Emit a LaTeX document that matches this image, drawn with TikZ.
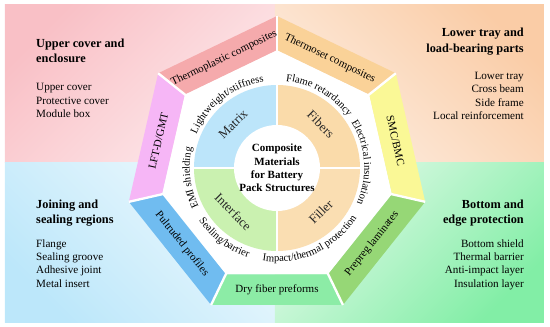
\documentclass[tikz,border=0pt]{standalone}
\usepackage{fontspec}
\setmainfont{Liberation Serif}
\usetikzlibrary{decorations.text}

% background quadrants
\definecolor{bgpink}{RGB}{249,192,198}
\definecolor{bgpinklight}{RGB}{253,234,236}
\definecolor{bgpeach}{RGB}{250,204,166}
\definecolor{bgpeachlight}{RGB}{253,238,226}
\definecolor{bgblue}{RGB}{188,231,250}
\definecolor{bgbluelight}{RGB}{238,249,253}
\definecolor{bggreen}{RGB}{130,238,166}
\definecolor{bggreenlight}{RGB}{228,250,234}

% outer ring
\definecolor{thermoplasticfill}{RGB}{245,170,172}
\definecolor{thermosetfill}{RGB}{250,210,152}
\definecolor{smcfill}{RGB}{250,248,150}
\definecolor{prepregfill}{RGB}{150,215,118}
\definecolor{dryfiberfill}{RGB}{140,236,166}
\definecolor{pultrudedfill}{RGB}{112,188,240}
\definecolor{lftfill}{RGB}{246,182,246}

% core disc
\definecolor{matrixfill}{RGB}{188,229,250}
\definecolor{fibersfill}{RGB}{250,219,170}
\definecolor{interfacefill}{RGB}{202,241,176}
\definecolor{fillerfill}{RGB}{250,222,178}

\newcommand{\ringfont}{\fontsize{9}{10}\selectfont}

\begin{document}
\begin{tikzpicture}[
        heading/.style={font=\fontsize{10.5}{13}\selectfont\bfseries, inner sep=0pt},
        items/.style={font=\fontsize{9.5}{11.3}\selectfont, inner sep=0pt},
        segtext/.style={font=\fontsize{9.4}{11}\selectfont, inner sep=0pt},
        quadtext/.style={font=\fontsize{11}{13}\selectfont, text=black!85, inner sep=0pt},
        gap/.style={white, line width=2pt},
        ringtext/.style={decorate, decoration={text along path, text align=center, text={#1}}}
    ]
    \useasboundingbox (-8.31,-4.77) rectangle (8.19,5.04);

    % Background
    \shade[top color=bgpink, bottom color=bgpinklight, shading angle=45] (-8.16,0.18) rectangle (-0.06,4.89);
    \shade[top color=bgpeach, bottom color=bgpeachlight, shading angle=-45] (-0.06,0.18) rectangle (8.01,4.89);
    \shade[top color=bgblue, bottom color=bgbluelight, shading angle=135] (-8.16,-4.62) rectangle (-0.06,0.18);
    \shade[top color=bggreen, bottom color=bggreenlight, shading angle=-135] (-0.06,-4.62) rectangle (8.01,0.18);

    % Outer ring of processes
    \fill[white] (90:3.54) -- (38.57:3.54) -- (-12.86:3.54) -- (-64.29:3.54) -- (-115.71:3.54) -- (-167.14:3.54) -- (141.43:3.54) -- cycle;
    \fill[thermoplasticfill] (141.43:4.56) -- (90:4.56) -- (90:3.54) -- (141.43:3.54) -- cycle;
    \fill[thermosetfill] (90:4.56) -- (38.57:4.56) -- (38.57:3.54) -- (90:3.54) -- cycle;
    \fill[smcfill] (38.57:4.56) -- (-12.86:4.56) -- (-12.86:3.54) -- (38.57:3.54) -- cycle;
    \fill[prepregfill] (-12.86:4.56) -- (-64.29:4.56) -- (-64.29:3.54) -- (-12.86:3.54) -- cycle;
    \fill[dryfiberfill] (-64.29:4.56) -- (-115.71:4.56) -- (-115.71:3.54) -- (-64.29:3.54) -- cycle;
    \fill[pultrudedfill] (-115.71:4.56) -- (-167.14:4.56) -- (-167.14:3.54) -- (-115.71:3.54) -- cycle;
    \fill[lftfill] (-167.14:4.56) -- (141.43:4.56) -- (141.43:3.54) -- (-167.14:3.54) -- cycle;
    \draw[gap] (90:3.4) -- (90:4.56);
    \draw[gap] (38.57:3.4) -- (38.57:4.56);
    \draw[gap] (-12.86:3.4) -- (-12.86:4.56);
    \draw[gap] (-64.29:3.4) -- (-64.29:4.56);
    \draw[gap] (-115.71:3.4) -- (-115.71:4.56);
    \draw[gap] (-167.14:3.4) -- (-167.14:4.56);
    \draw[gap] (141.43:3.4) -- (141.43:4.56);

    \node[segtext, rotate=25.71] (thermoplastic) at (115.71:3.65) {Thermoplastic composites};
    \node[segtext, rotate=-25.71] (thermoset) at (64.29:3.65) {Thermoset composites};
    \node[segtext, rotate=-77.14] (smcbmc) at (12.86:3.65) {SMC/BMC};
    \node[segtext, rotate=51.43] (prepreg) at (-38.57:3.65) {Prepreg laminates};
    \node[segtext] (dryfiber) at (-90:3.65) {Dry fiber preforms};
    \node[segtext, rotate=-51.43] (pultruded) at (-141.43:3.65) {Pultruded profiles};
    \node[segtext, rotate=77.14] (lftgmt) at (167.14:3.65) {LFT-D/GMT};

    % Core disc
    \fill[matrixfill] (0,0) -- (90:2.49) arc[start angle=90, end angle=180, radius=2.49] -- cycle;
    \fill[fibersfill] (0,0) -- (0:2.49) arc[start angle=0, end angle=90, radius=2.49] -- cycle;
    \fill[interfacefill] (0,0) -- (180:2.49) arc[start angle=180, end angle=270, radius=2.49] -- cycle;
    \fill[fillerfill] (0,0) -- (270:2.49) arc[start angle=270, end angle=360, radius=2.49] -- cycle;
    \draw[gap] (0,-2.55) -- (0,2.55);
    \draw[gap] (-2.55,0) -- (2.55,0);
    \fill[white] (0,0) circle (1.29);

    \node[quadtext, rotate=45] (matrix) at (135:1.86) {Matrix};
    \node[quadtext, rotate=-45] (fibers) at (45:1.86) {Fibers};
    \node[quadtext, rotate=-45] (interface) at (225:1.86) {Interface};
    \node[quadtext, rotate=45] (filler) at (-45:1.86) {Filler};
    \node[font=\fontsize{9.4}{11.3}\selectfont\bfseries, align=center, inner sep=0pt] (core) at (0,0) {Composite\\Materials\\for Battery\\Pack Structures};

    % Functions along the ring
    \path[ringtext={|\ringfont|Lightweight/stiffness}] (178:2.62) arc[start angle=178, end angle=78, radius=2.62];
    \path[ringtext={|\ringfont|Flame retardancy}] (110:2.62) arc[start angle=110, end angle=10, radius=2.62];
    \path[ringtext={|\ringfont|Electrical insulation}] (54:2.62) arc[start angle=54, end angle=-46, radius=2.62];
    \path[ringtext={|\ringfont|EMI shielding}] (236.5:2.62) arc[start angle=236.5, end angle=136.5, radius=2.62];
    \path[ringtext={|\ringfont|Impact/thermal protection}] (-115.5:2.82) arc[start angle=-115.5, end angle=-15.5, radius=2.82];
    \path[ringtext={|\ringfont|Sealing/barrier}] (-177:2.82) arc[start angle=-177, end angle=-77, radius=2.82];

    % Application regions
    \node[heading, anchor=west, align=left] (upperhead) at (-7.23,3.525) {Upper cover and\\enclosure};
    \node[items, anchor=west, align=left] (upperlist) at (-7.23,2.025) {Upper cover\\Protective cover\\Module box};
    \node[heading, anchor=east, align=right] (lowerhead) at (7.41,3.795) {Lower tray and\\load-bearing parts};
    \node[items, anchor=east, align=right] (lowerlist) at (7.41,2.16) {Lower tray\\Cross beam\\Side frame\\Local reinforcement};
    \node[heading, anchor=west, align=left] (joinhead) at (-7.23,-1.35) {Joining and\\sealing regions};
    \node[items, anchor=west, align=left] (joinlist) at (-7.23,-2.865) {Flange\\Sealing groove\\Adhesive joint\\Metal insert};
    \node[heading, anchor=east, align=right] (bottomhead) at (7.41,-1.35) {Bottom and\\edge protection};
    \node[items, anchor=east, align=right] (bottomlist) at (7.41,-2.895) {Bottom shield\\Thermal barrier\\Anti-impact layer\\Insulation layer};

\end{tikzpicture}
\end{document}
